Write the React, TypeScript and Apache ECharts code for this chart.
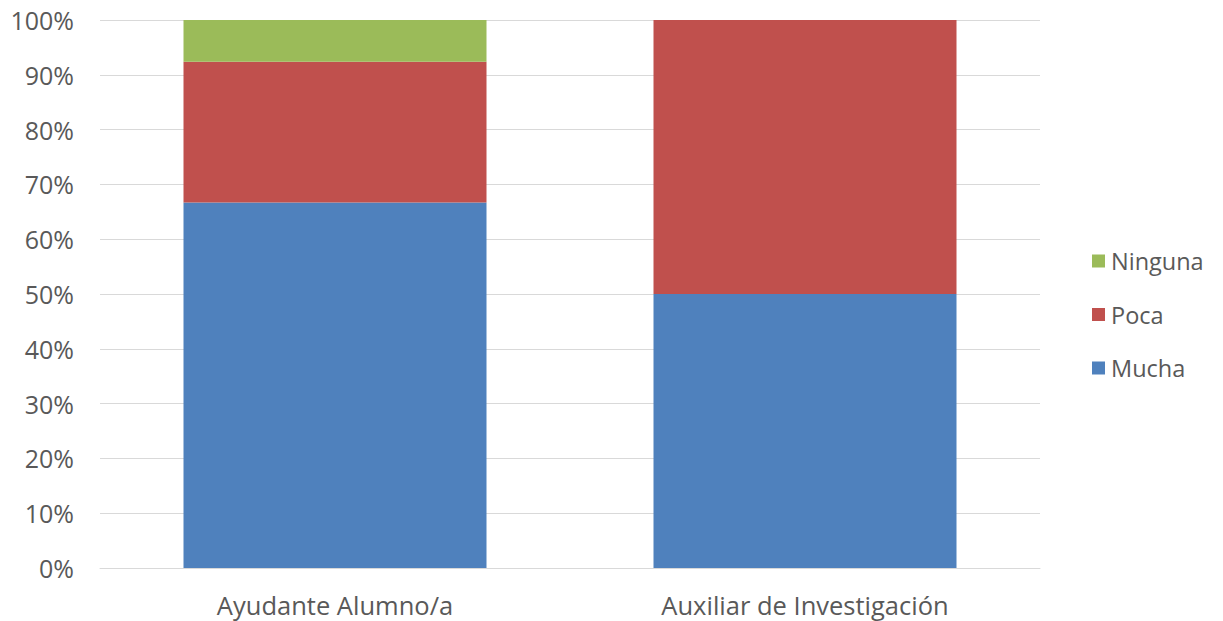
import React, { useEffect, useRef } from "react";
import * as echarts from "echarts";

const categories = ["Ayudante Alumno/a", "Auxiliar de Investigación"];
const mucha = [66.7, 50];
const poca = [25.7, 50];
const ninguna = [7.6, 0];
const yTicks = [0, 10, 20, 30, 40, 50, 60, 70, 80, 90, 100];

export default function App() {
  const ref = useRef<HTMLDivElement>(null);
  useEffect(() => {
    if (!ref.current) return;
    const chart = echarts.init(ref.current, null, { renderer: "svg" });
    const font = "Open Sans";
    chart.setOption({
      animation: false,
      backgroundColor: "#ffffff",
      textStyle: { fontFamily: font },
      grid: { left: 100, right: 183, top: 20, bottom: 53, containLabel: false },
      legend: {
        orient: "vertical",
        left: 1087,
        top: 244,
        itemWidth: 13,
        itemHeight: 13,
        itemGap: 29.5,
        icon: "rect",
        data: ["Ninguna", "Poca", "Mucha"],
        textStyle: { color: "#595959", fontSize: 23.5, fontFamily: font, padding: [0, 0, 0, 1] },
      },
      xAxis: {
        type: "category",
        data: categories,
        axisLine: { lineStyle: { color: "#d9d9d9", width: 1 } },
        axisTick: { show: false },
        axisLabel: { color: "#595959", fontSize: 25.5, fontFamily: font, margin: 24 },
      },
      yAxis: {
        type: "value",
        min: 0,
        max: 100,
        interval: 10,
        axisLine: { show: false },
        axisTick: { show: false },
        splitLine: { lineStyle: { color: "#d9d9d9", width: 1 } },
        axisLabel: {
          color: "#595959",
          fontSize: 25,
          fontFamily: font,
          margin: 26,
          formatter: (v: number) => (yTicks.includes(v) ? v + "%" : ""),
        },
      },
      series: [
        { name: "Mucha", type: "bar", stack: "s", data: mucha, barWidth: 303, itemStyle: { color: "#4F81BD" } },
        { name: "Poca", type: "bar", stack: "s", data: poca, barWidth: 303, itemStyle: { color: "#C0504D" } },
        { name: "Ninguna", type: "bar", stack: "s", data: ninguna, barWidth: 303, itemStyle: { color: "#9BBB59" } },
      ],
    });
    return () => chart.dispose();
  }, []);
  return <div ref={ref} style={{ width: 1223, height: 621, position: "absolute", left: 0, top: 0 }} />;
}
